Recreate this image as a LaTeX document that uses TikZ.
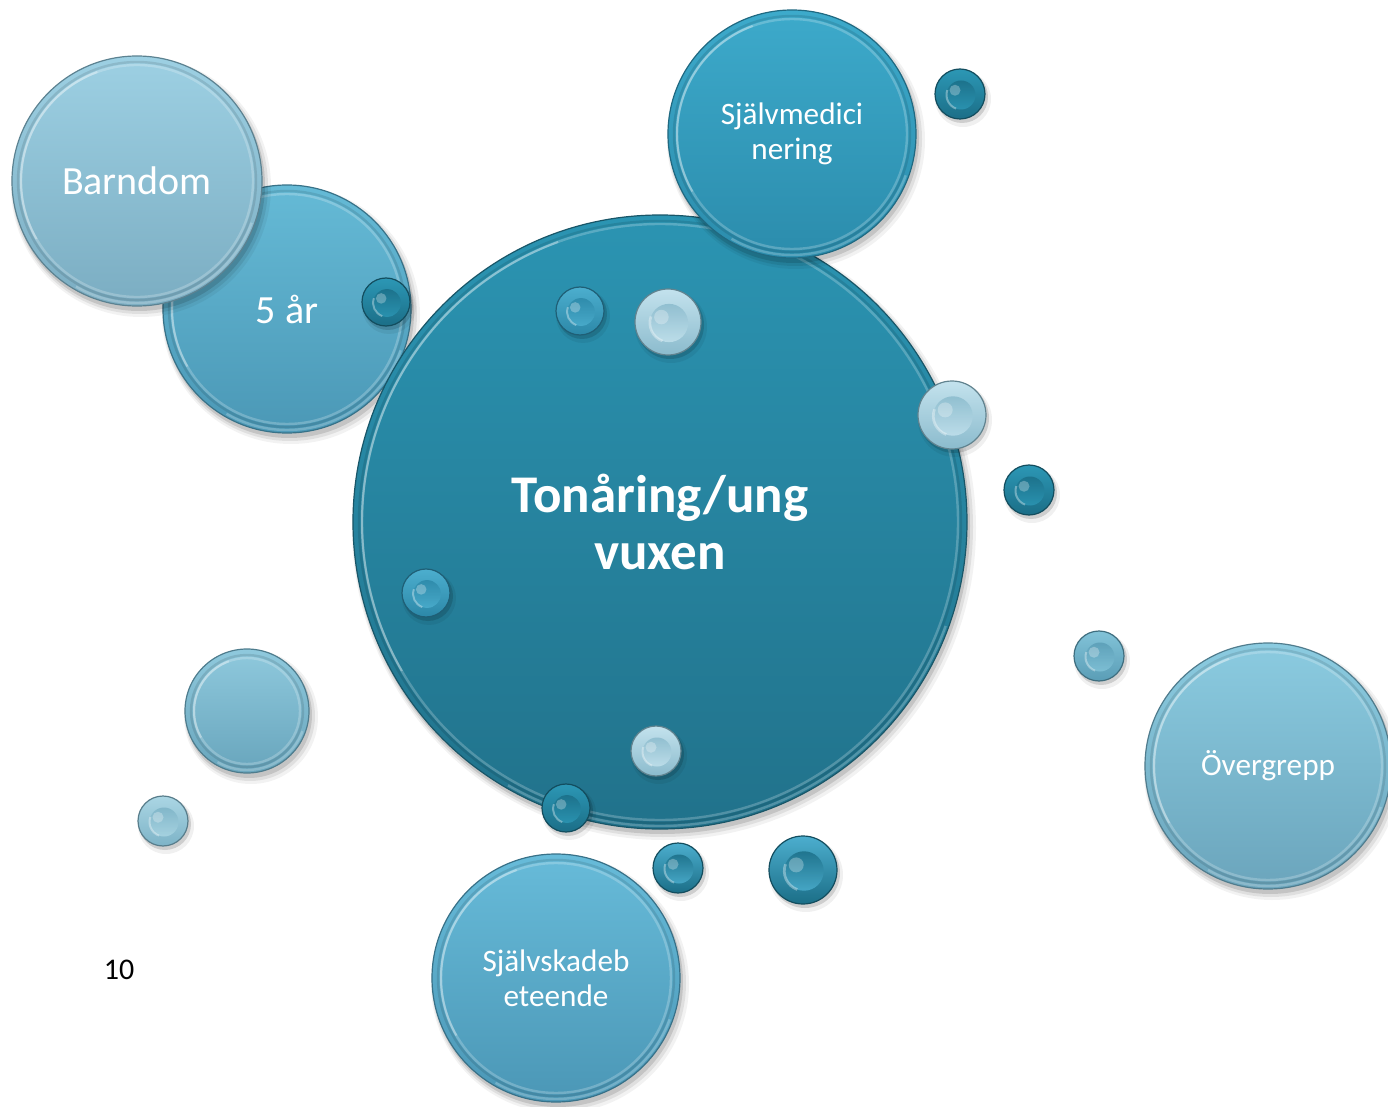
\documentclass[tikz,border=0pt]{standalone}
\usepackage{fontspec}
\setmainfont{Carlito}
\definecolor{tonT}{HTML}{2B94B2}
\definecolor{tonB}{HTML}{21728B}
\definecolor{medT}{HTML}{3DAACB}
\definecolor{medB}{HTML}{2B8CAC}
\definecolor{arT}{HTML}{65BAD6}
\definecolor{arB}{HTML}{4B98B6}
\definecolor{barT}{HTML}{9DD0E3}
\definecolor{barB}{HTML}{7BADC2}
\definecolor{ovT}{HTML}{8BCBE0}
\definecolor{ovB}{HTML}{6BA5BC}
\definecolor{skT}{HTML}{67BBD9}
\definecolor{skB}{HTML}{4B97B6}
\definecolor{blT}{HTML}{8FC9DD}
\definecolor{blB}{HTML}{68A5BC}
\definecolor{ltT}{HTML}{C3E2ED}
\definecolor{ltB}{HTML}{8BBBCD}
\definecolor{paT}{HTML}{ABD6E4}
\definecolor{paB}{HTML}{7DB3C7}
\definecolor{dkT}{HTML}{2C97B5}
\definecolor{dkB}{HTML}{1B6E87}
\definecolor{mdT}{HTML}{4CAECE}
\definecolor{mdB}{HTML}{2C88A8}
\definecolor{pmT}{HTML}{82C3D8}
\definecolor{pmB}{HTML}{5A9DB6}
\tikzset{
  bubble/.style={circle, inner sep=0pt, draw=#1, line width=0.6pt, text=white, align=center},
  bigfont/.style={font=\fontsize{20}{24}\selectfont},
  midfont/.style={font=\fontsize{15.6}{17.5}\selectfont},
  mainfont/.style={font=\bfseries\fontsize{26.5}{28.5}\selectfont},
  shadowdisc/.style={fill=black, opacity=#1},
}
% name, x, y, r(px), top, bottom, style, text
\newcommand\bubbleat[8]{%
  \fill[shadowdisc=0.05] (#2+4,#3+6) circle ({#4+5});
  \fill[shadowdisc=0.08] (#2+3,#3+5) circle ({#4+3});
  \fill[shadowdisc=0.12] (#2+2,#3+4) circle ({#4+1});
  \node[bubble=#6!75!black, top color=#5, bottom color=#6, minimum size={#4*1pt}, #7] (#1) at (#2,#3) {#8};
  \draw[black, opacity=0.10, line width=1.2pt] (#1.center) circle ({#4-6});
  \draw[white, opacity=0.22, line width=1.2pt] (#1.center) circle ({#4-9});
  \draw[white, opacity=0.22, line width=1.2pt] (#1.center) ++(20:{#4-3}) arc[start angle=20, end angle=120, radius={#4-3}];
  \draw[white, opacity=0.3, line width=1pt] (#1.center) ++(150:{#4-9}) arc[start angle=150, end angle=250, radius={#4-9}];
}
% name, x, y, r(px), top, bottom
\newcommand\dotat[6]{%
  \fill[shadowdisc=0.06] (#2+3,#3+5) circle ({#4+3});
  \fill[shadowdisc=0.14] (#2+2,#3+3) circle ({#4+1});
  \node[bubble=#6!70!black, top color=#5, bottom color=#6, minimum size={#4*1pt}] (#1) at (#2,#3) {};
  \shade[top color=#6, bottom color=#5, opacity=0.85] (#1.center) ++(1,1) circle ({0.58*#4});
  \fill[white, opacity=0.28] (#1.center) ++({-0.2*#4},{-0.15*#4}) circle ({0.22*#4});
  \draw[white, opacity=0.35, line width={0.04*#4*1pt}] (#1.center) ++(1,1) ++(110:{0.58*#4}) arc[start angle=110, end angle=200, radius={0.58*#4}];
}
\begin{document}
\begin{tikzpicture}[x=0.5pt, y=-0.5pt]
\useasboundingbox (0,0) rectangle (1388,1107);
\bubbleat{ar}{287}{309}{124}{arT}{arB}{bigfont}{5 år}
\bubbleat{barn}{137}{181}{125}{barT}{barB}{bigfont}{Barndom}
\bubbleat{ton}{660}{522}{307}{tonT}{tonB}{mainfont}{Tonåring/ung\\vuxen}
\bubbleat{med}{792}{134}{124}{medT}{medB}{midfont}{Självmedici\\nering}
\bubbleat{over}{1268}{766}{123}{ovT}{ovB}{midfont}{Övergrepp}
\bubbleat{skada}{556}{978}{124}{skT}{skB}{midfont}{Självskadeb\\eteende}
\bubbleat{blob}{247}{711}{62}{blT}{blB}{}{}
\dotat{d1}{386}{302}{24}{dkT}{dkB}
\dotat{d2}{960}{94}{25}{dkT}{dkB}
\dotat{d3}{580}{311}{24}{mdT}{mdB}
\dotat{d4}{668}{322}{33}{ltT}{ltB}
\dotat{d5}{952}{415}{34}{ltT}{ltB}
\dotat{d6}{1029}{490}{25}{dkT}{dkB}
\dotat{d7}{426}{593}{24}{mdT}{mdB}
\dotat{d8}{1099}{656}{25}{pmT}{pmB}
\dotat{d9}{163}{821}{25}{paT}{paB}
\dotat{d10}{656}{751}{25}{ltT}{ltB}
\dotat{d11}{566}{808}{24}{dkT}{dkB}
\dotat{d12}{678}{868}{25}{mdT}{dkB}
\dotat{d13}{803}{870}{34}{mdT}{dkB}
\node[font=\fontsize{15}{18}\selectfont, text=black] (num) at (119,970) {10};
\end{tikzpicture}
\end{document}
